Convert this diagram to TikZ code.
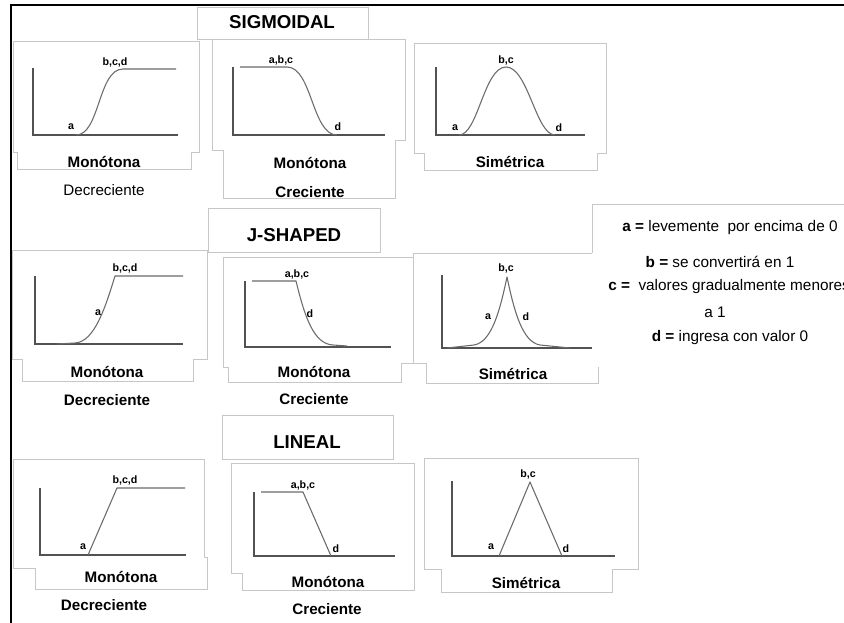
\documentclass[tikz,border=0pt]{standalone}
\usepackage{fontspec}
\setmainfont{Liberation Sans}
\begin{document}
\begin{tikzpicture}[x=0.75pt,y=-0.75pt,
  panel/.style={draw=black!22, line width=0.6pt, fill=white},
  edge/.style={draw=black!22, line width=0.6pt},
  axis/.style={draw=black!68, line width=1.1pt},
  curve/.style={draw=black!58, line width=0.8pt, line join=round},
  ttl/.style={font=\bfseries\fontsize{14}{16}\selectfont, inner sep=0pt},
  capb/.style={font=\bfseries\fontsize{11.4}{13}\selectfont, inner sep=0pt},
  capr/.style={font=\fontsize{11.4}{13}\selectfont, inner sep=0pt},
  lbl/.style={font=\bfseries\fontsize{8}{9}\selectfont, inner sep=0pt},
  leg/.style={font=\fontsize{11.5}{13}\selectfont, inner sep=0pt}]
\useasboundingbox (0,0) rectangle (844,623);
\clip (0,0) rectangle (844,623);
\fill[white] (0,0) rectangle (844,623);

% outer frame
\draw[line width=1.6pt] (850,5) -- (11,5) -- (11,630);

% ---------- SIGMOIDAL row ----------
\draw[panel] (13,41) -- (199,41) -- (199,152) -- (191,152) -- (191,169) -- (17,169) -- (17,152) -- (13,152) -- cycle;
\draw[panel] (197,7) rectangle (368,39);
\draw[panel] (212,39) -- (405,39) -- (405,140) -- (395,140) -- (395,198) -- (223,198) -- (223,150) -- (212,150) -- cycle;
\draw[panel] (414,43) -- (606,43) -- (606,153) -- (597,153) -- (597,170) -- (424,170) -- (424,153) -- (414,153) -- cycle;

\node[ttl] (tsig) at (282,22) {SIGMOIDAL};

% S1
\draw[axis] (33,68) -- (33,135) -- (178,135);
\draw[curve] (76,135) .. controls (100,135) and (98,69) .. (123,69) -- (176,69);
\node[lbl] (s1a) at (71,127) {a};
\node[lbl] (s1b) at (115,62) {b,c,d};
\node[capb] (s1c) at (104,162) {Monótona};
\node[capr] (s1d) at (104,190) {Decreciente};

% S2
\draw[axis] (233,67) -- (233,135) -- (385,135);
\draw[curve] (240,67) -- (287,67) .. controls (312,67) and (312,135) .. (337,135);
\node[lbl] (s2b) at (281,60) {a,b,c};
\node[lbl] (s2d) at (338,127) {d};
\node[capb] (s2c) at (310,163) {Monótona};
\node[capb] (s2e) at (310,192) {Creciente};

% S3
\draw[axis] (436,67) -- (436,135) -- (585,135);
\draw[curve] (459,135) .. controls (478,135) and (484,67) .. (506,67) .. controls (528,67) and (536,135) .. (555,135);
\node[lbl] (s3a) at (455,128) {a};
\node[lbl] (s3b) at (506,60) {b,c};
\node[lbl] (s3d) at (559,128) {d};
\node[capb] (s3c) at (510,162) {Simétrica};

% ---------- J-SHAPED row ----------
\draw[panel] (208,208) rectangle (380,252);
\draw[panel] (12,250) -- (207,250) -- (207,359) -- (193,359) -- (193,381) -- (22,381) -- (22,359) -- (12,359) -- cycle;
\draw[panel] (223,257) -- (413,257) -- (413,363) -- (401,363) -- (401,382) -- (228,382) -- (228,367) -- (223,367) -- cycle;
\draw[edge] (592,253) -- (413,253) -- (413,363) -- (426,363) -- (426,383) -- (598,383) -- (598,367);
\draw[edge] (850,204) -- (592,204) -- (592,253);

\node[ttl] (tj) at (294,235) {J-SHAPED};

% J1
\draw[axis] (35,276) -- (35,344) -- (183,344);
\draw[curve] (57,344) -- (75,343) .. controls (95,342) and (106,305) .. (115,276) -- (183,276);
\node[lbl] (j1a) at (98,313) {a};
\node[lbl] (j1b) at (125,268) {b,c,d};
\node[capb] (j1c) at (107,372) {Monótona};
\node[capb] (j1d) at (107,400) {Decreciente};

% J2
\draw[axis] (245,281) -- (245,347) -- (391,347);
\draw[curve] (252,281) -- (296,281) .. controls (305,318) and (314,344) .. (333,345) -- (347,346);
\node[lbl] (j2b) at (297,274) {a,b,c};
\node[lbl] (j2d) at (310,314) {d};
\node[capb] (j2c) at (314,372) {Monótona};
\node[capb] (j2e) at (314,399) {Creciente};

% J3
\draw[axis] (442,275) -- (442,348) -- (592,348);
\draw[curve] (447,348) -- (474,345) .. controls (492,342) and (500,310) .. (507,277) .. controls (514,310) and (522,342) .. (540,345) -- (570,348);
\node[lbl] (j3a) at (488,317) {a};
\node[lbl] (j3b) at (506,268) {b,c};
\node[lbl] (j3d) at (526,317) {d};
\node[capb] (j3c) at (513,374) {Simétrica};

% legend
\node[leg] (la) at (730,228) {\textbf{a =} levemente\ \ por encima de 0};
\node[leg] (lb) at (720,262) {\textbf{b =} se convertirá en 1};
\node[leg, anchor=west] (lc) at (608,287) {\textbf{c =}\ \ valores\ gradualmente\ menores};
\node[leg] (lc2) at (715,312) {a 1};
\node[leg] (ld) at (730,338) {\textbf{d =} ingresa con valor 0};

% ---------- LINEAL row ----------
\draw[panel] (222,415) rectangle (393,459);
\draw[panel] (13,459) -- (204,459) -- (204,557) -- (207,557) -- (207,589) -- (35,589) -- (35,568) -- (13,568) -- cycle;
\draw[panel] (231,463) -- (414,463) -- (414,590) -- (242,590) -- (242,573) -- (231,573) -- cycle;
\draw[panel] (424,458) -- (638,458) -- (638,569) -- (612,569) -- (612,592) -- (441,592) -- (441,569) -- (424,569) -- cycle;

\node[ttl] (tl) at (307,442) {LINEAL};

% L1
\draw[axis] (40,488) -- (40,555) -- (186,555);
\draw[curve] (88,555) -- (117,488) -- (185,488);
\node[lbl] (l1a) at (83,547) {a};
\node[lbl] (l1b) at (125,480) {b,c,d};
\node[capb] (l1c) at (121,577) {Monótona};
\node[capb] (l1d) at (104,605) {Decreciente};

% L2
\draw[axis] (254,492) -- (254,556) -- (395,556);
\draw[curve] (261,492) -- (303,492) -- (331,556);
\node[lbl] (l2b) at (303,485) {a,b,c};
\node[lbl] (l2d) at (336,549) {d};
\node[capb] (l2c) at (328,582) {Monótona};
\node[capb] (l2e) at (327,609) {Creciente};

% L3
\draw[axis] (452,481) -- (452,556) -- (615,556);
\draw[curve] (499,556) -- (530,482) -- (562,556);
\node[lbl] (l3a) at (491,547) {a};
\node[lbl] (l3b) at (528,474) {b,c};
\node[lbl] (l3d) at (566,549) {d};
\node[capb] (l3c) at (526,583) {Simétrica};
\end{tikzpicture}
\end{document}
